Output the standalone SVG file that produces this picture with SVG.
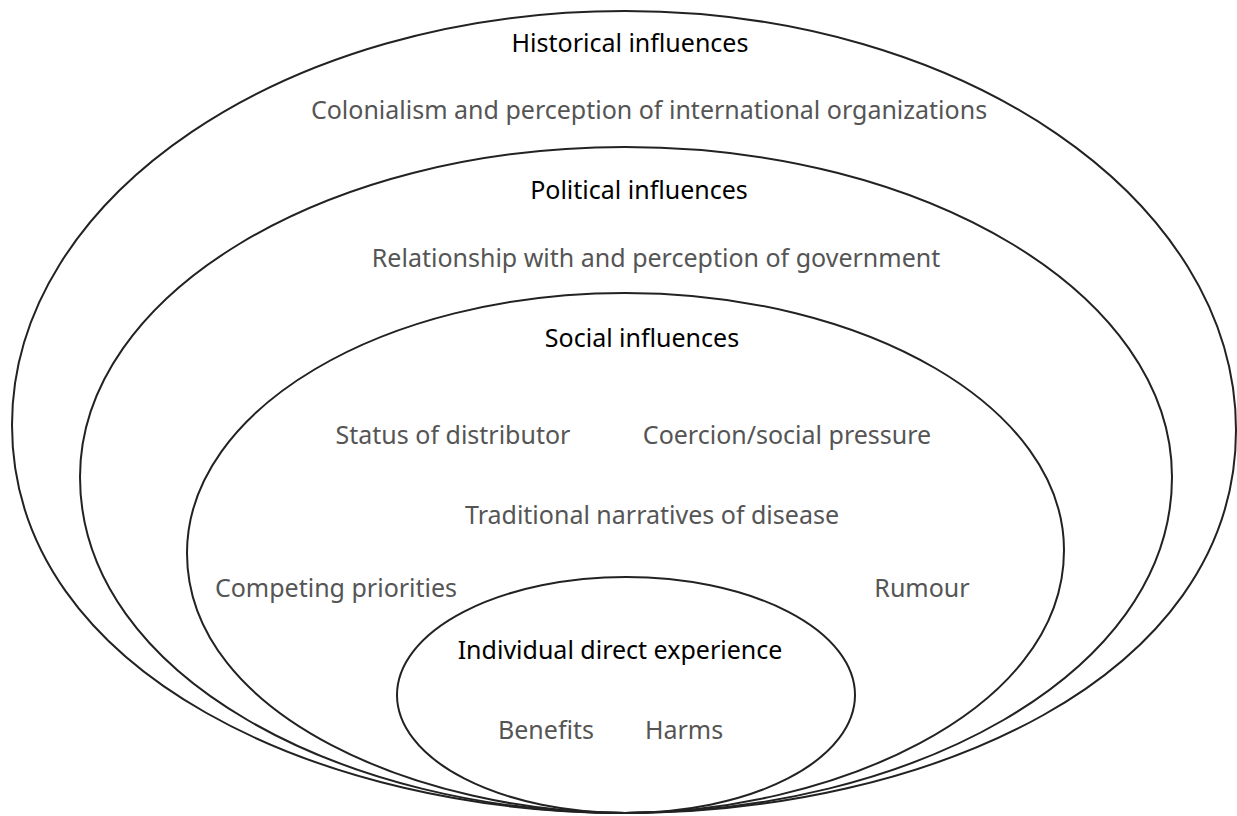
<svg xmlns="http://www.w3.org/2000/svg" width="1237" height="816" viewBox="0 0 1237 816">
<style>
.ring{fill:none;stroke:#222;stroke-width:2}
.title{font-family:"Noto Sans","Open Sans",sans-serif;font-size:25px;fill:#000;text-anchor:middle}
.item{font-family:"Noto Sans","Open Sans",sans-serif;font-size:25px;fill:#555;text-anchor:middle}
</style>
<rect width="1237" height="816" fill="#fff"/>
<g id="historical">
<path class="ring" d="M625,813 C325,813 12,675 12,425 C12,196 286,11 625,11 C962,11 1236,199 1236,430 C1236,680 925,813 625,813 Z"/>
<text class="title" x="630" y="52">Historical influences</text>
<text class="item" x="649" y="119">Colonialism and perception of international organizations</text>
</g>
<g id="political">
<path class="ring" d="M625,813 C345,813 80,677 80,477 C80,295 324,147 625,147 C927,147 1172,295 1172,477 C1172,677 905,813 625,813 Z"/>
<text class="title" x="639" y="199">Political influences</text>
<text class="item" x="656" y="267">Relationship with and perception of government</text>
</g>
<g id="social">
<path class="ring" d="M625,813 C425,813 187,718 187,553 C187,409 383,293 625,293 C867,293 1064,408 1064,550 C1064,715 825,813 625,813 Z"/>
<text class="title" x="642" y="347">Social influences</text>
<text class="item" x="453" y="444">Status of distributor</text>
<text class="item" x="787" y="444">Coercion/social pressure</text>
<text class="item" x="652" y="524">Traditional narratives of disease</text>
<text class="item" x="336" y="597">Competing priorities</text>
<text class="item" x="922" y="597">Rumour</text>
</g>
<g id="individual">
<ellipse class="ring" cx="626" cy="695" rx="229" ry="118"/>
<text class="title" x="620" y="659">Individual direct experience</text>
<text class="item" x="546" y="739">Benefits</text>
<text class="item" x="684" y="739">Harms</text>
</g>
</svg>
